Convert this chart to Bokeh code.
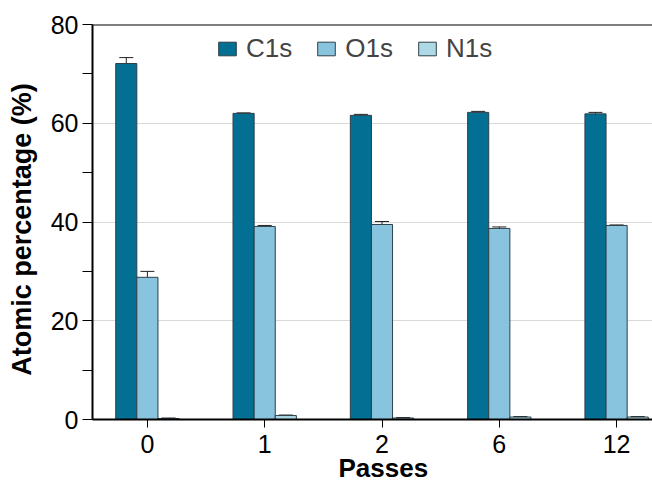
from bokeh.plotting import figure
from bokeh.models import ColumnDataSource, FixedTicker, Whisker, Legend, LegendItem, Span
from bokeh.embed import file_html
from bokeh.resources import INLINE

passes = ["0", "1", "2", "6", "12"]
c1s = [72.1, 62.0, 61.6, 62.2, 61.9]
c1s_err = [1.2, 0.1, 0.2, 0.2, 0.3]
o1s = [28.8, 39.1, 39.5, 38.7, 39.3]
o1s_err = [1.2, 0.2, 0.6, 0.3, 0.1]
n1s = [0.2, 0.8, 0.3, 0.5, 0.5]
n1s_err = [0.1, 0.1, 0.1, 0.1, 0.1]

series = [("C1s", c1s, c1s_err, "#036f93", -0.18),
          ("O1s", o1s, o1s_err, "#88c4dd", 0.0),
          ("N1s", n1s, n1s_err, "#add8e6", 0.18)]

FONT = "Liberation Sans"
NB = "\u00a0"

p = figure(width=652, height=488, output_backend="svg", toolbar_location=None,
           x_range=(-0.468, 4.306), y_range=(0, 80),
           min_border_left=92, min_border_right=0, min_border_top=24, min_border_bottom=69)
p.outline_line_color = None
p.background_fill_color = "white"

items = []
for name, vals, errs, color, off in series:
    xs = [i + off for i in range(len(passes))]
    src = ColumnDataSource(dict(x=xs, top=vals,
                                upper=[v + e for v, e in zip(vals, errs)],
                                lower=[v - e for v, e in zip(vals, errs)]))
    r = p.vbar(x="x", top="top", width=0.18, bottom=0, source=src,
               fill_color=color, line_color="#2f3f48", line_width=1)
    w = Whisker(base="x", upper="upper", lower="lower", source=src,
                line_color="#222222", line_width=1)
    w.upper_head.size = 14
    w.lower_head.size = 14
    w.upper_head.line_color = "#222222"
    w.lower_head.line_color = "#222222"
    p.add_layout(w)
    items.append(LegendItem(label=name, renderers=[r]))

p.add_layout(Span(location=80, dimension="width", line_color="black", line_width=2))

legend = Legend(items=items, orientation="horizontal", location=(124, 355),
                padding=0, margin=0, spacing=23, glyph_width=22, glyph_height=17,
                label_standoff=8, label_text_font=FONT, label_text_font_size="26px",
                label_height=24, border_line_color=None, background_fill_alpha=0)
p.add_layout(legend, "center")

p.xaxis.ticker = FixedTicker(ticks=list(range(len(passes))))
p.xaxis.major_label_overrides = {i: s for i, s in enumerate(passes)}
p.yaxis.ticker = FixedTicker(ticks=[0, 20, 40, 60, 80], minor_ticks=[10, 30, 50, 70])

for ax in (p.xaxis, p.yaxis):
    ax.axis_line_color = "black"
    ax.axis_line_width = 2
    ax.major_tick_line_color = "black"
    ax.major_tick_line_width = 1
    ax.major_tick_in = 0
    ax.major_label_text_font = FONT
    ax.major_label_text_font_size = "25px"
    ax.major_label_text_color = "black"
    ax.axis_label_text_font = FONT
    ax.axis_label_text_font_style = "bold"
    ax.axis_label_text_color = "black"

p.xaxis.major_tick_out = 8
p.xaxis.minor_tick_line_color = None
p.xaxis.major_label_standoff = 7
p.xaxis.axis_label = NB * 3 + "Passes"
p.xaxis.axis_label_text_font_size = "26px"
p.xaxis.axis_label_standoff = -3

p.yaxis.major_tick_out = 10
p.yaxis.minor_tick_out = 10
p.yaxis.minor_tick_in = 0
p.yaxis.minor_tick_line_color = "black"
p.yaxis.major_label_standoff = 4
p.yaxis.axis_label = "Atomic percentage (%)" + NB * 2
p.yaxis.axis_label_text_font_size = "27px"
p.yaxis.axis_label_standoff = 11

p.xgrid.grid_line_color = None
p.ygrid.grid_line_color = "#d9d9d9"
p.ygrid.grid_line_width = 1

open("out.html", "w").write(file_html(p, INLINE))
